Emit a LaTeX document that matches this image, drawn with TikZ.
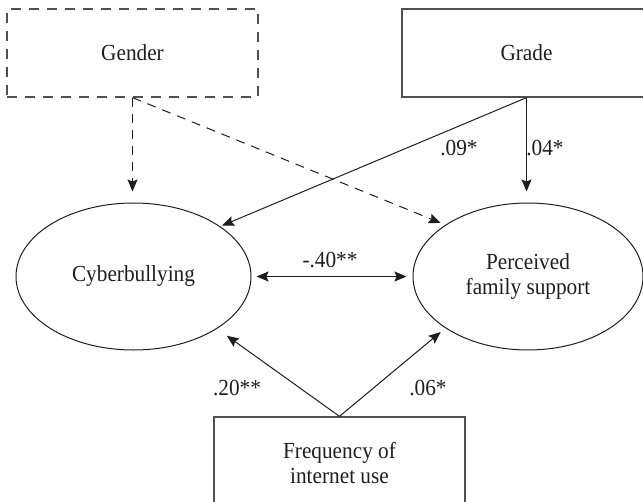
\documentclass[tikz,border=0pt]{standalone}
\usepackage{fontspec}
\setmainfont{Liberation Serif}[FakeStretch=0.925]
\usetikzlibrary{arrows.meta,shapes.geometric}
\definecolor{boxgray}{RGB}{80,80,80}
\definecolor{ink}{RGB}{30,30,30}
\tikzset{
  boxnode/.style={draw=boxgray, line width=1.3bp, rectangle, inner sep=0pt, align=center, text=ink},
  latent/.style={draw=ink, line width=1bp, ellipse, inner sep=0pt, align=center, text=ink},
  conn/.style={draw=ink, line width=1bp, -{Stealth[length=12bp,width=10bp,inset=2bp]}},
  dconn/.style={conn, dash pattern=on 9bp off 7bp},
  coef/.style={inner sep=0pt, text=ink},
}
\begin{document}
\begin{tikzpicture}[x=1bp, y=-1bp, font=\fontsize{23bp}{25bp}\selectfont]
\useasboundingbox (0,0) rectangle (643,502);
\node[boxnode, dash pattern=on 10bp off 8bp, minimum width=251bp, minimum height=88bp] (gender) at (132.5,53) {Gender};
\node[boxnode, minimum width=249bp, minimum height=88bp] (grade) at (526.5,53) {Grade};
\node[latent, minimum width=235bp, minimum height=147bp] (cyber) at (133.5,276.5) {Cyberbullying};
\node[latent, minimum width=230bp, minimum height=147bp] (perc) at (528,276.5) {Perceived\\family support};
\node[boxnode, minimum width=251bp, minimum height=92bp] (freq) at (339.5,463) {Frequency of\\internet use};

\draw[dconn, shorten >=11bp] (gender.south) -- (gender.south |- cyber.north);
\draw[dconn, shorten >=5bp] (gender.south) -- (perc.148);
\draw[conn, shorten >=2bp] (grade.south) -- (cyber.30);
\draw[conn, shorten >=11bp] (grade.south) -- (grade.south |- perc.north);
\draw[conn, {Stealth[length=12bp,width=10bp,inset=2bp]}-{Stealth[length=12bp,width=10bp,inset=2bp]}, shorten <=5bp, shorten >=6bp] (cyber.east) -- (perc.west);
\draw[conn, shorten >=12bp] (freq.north) -- (cyber.-32.5);
\draw[conn, shorten >=6bp] (freq.north) -- (perc.212);

\node[coef] (c40) at (330,260) {-.40**};
\node[coef] (c09) at (459,148) {.09*};
\node[coef] (c04) at (545,148) {.04*};
\node[coef] (c20) at (237,388) {.20**};
\node[coef] (c06) at (428,388) {.06*};
\end{tikzpicture}
\end{document}
